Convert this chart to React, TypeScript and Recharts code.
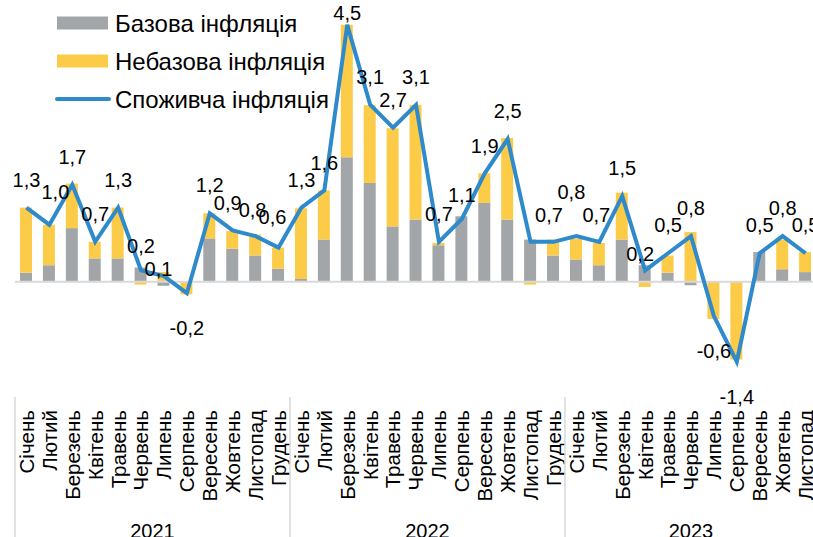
import React from 'react';
import { ComposedChart, Bar, Line, XAxis, YAxis, ReferenceLine, Legend } from 'recharts';

const monthNames = ['Січень', 'Лютий', 'Березень', 'Квітень', 'Травень', 'Червень', 'Липень', 'Серпень', 'Вересень', 'Жовтень', 'Листопад', 'Грудень'];
const years = ['2021', '2022', '2023'];
const monthsPerYear = [12, 12, 11];

const baseInflation = [
  0.16, 0.29, 0.94, 0.41, 0.41, 0.25, -0.07, 0.0, 0.76, 0.58, 0.46, 0.23,
  0.05, 0.74, 2.18, 1.73, 0.97, 1.09, 0.64, 1.15, 1.38, 1.09, 0.74, 0.46,
  0.39, 0.29, 0.74, 0.29, 0.16, -0.06, 0.0, 0.0, 0.52, 0.22, 0.17,
];
const nonBaseInflation = [
  1.14, 0.71, 0.78, 0.29, 0.89, -0.05, 0.17, -0.22, 0.44, 0.31, 0.37, 0.37,
  1.24, 0.86, 2.32, 1.36, 1.72, 2.01, 0.04, 0.0, 0.52, 1.43, -0.05, 0.28,
  0.36, 0.39, 0.82, -0.09, 0.30, 0.87, -0.65, -1.36, 0.0, 0.52, 0.35,
];
const cpiInflation = [
  1.3, 1.0, 1.7, 0.7, 1.3, 0.2, 0.1, -0.2, 1.2, 0.9, 0.8, 0.6,
  1.3, 1.6, 4.5, 3.1, 2.7, 3.1, 0.7, 1.1, 1.9, 2.5, 0.7, 0.7,
  0.8, 0.7, 1.5, 0.2, 0.5, 0.8, -0.6, -1.4, 0.5, 0.8, 0.5,
];

const seriesNames = ['Базова інфляція', 'Небазова інфляція', 'Споживча інфляція'];

type Row = { key: string; year: string; monthIdx: number; month: string; base: number; nonbase: number; cpi: number };
const data: Row[] = [];
{
  let i = 0;
  years.forEach((y, yi) => {
    for (let m = 0; m < monthsPerYear[yi]; m++) {
      data.push({ key: `${y}-${m}`, year: y, monthIdx: m, month: monthNames[m], base: baseInflation[i], nonbase: nonBaseInflation[i], cpi: cpiInflation[i] });
      i++;
    }
  });
}

// label placement tweaks (styling only), keyed by category index: [dx, dy from point]
const labelNudges: Record<number, [number, number]> = {
  1: [6, -33],
  5: [0, -25],
  6: [-5.5, -7],
  9: [-5, -28],
  10: [-3, -26],
  11: [-6, -31],
  19: [0, -24],
  23: [-4.5, -27],
  24: [-5, -44],
  25: [-3, -27],
  27: [-5, -17],
};
const hiddenLabels = new Set([22]);

const FONT = '"Liberation Sans", Arial, sans-serif';
const GREY = '#A3A6A9';
const YELLOW = '#FCCB48';
const BLUE = '#2E8ACB';

const CHART_W = 817;
const CHART_H = 537;
const M_LEFT = 15;
const M_TOP = 2;
const AXIS_H = 141;
const STEP = (CHART_W - M_LEFT) / data.length;

const MonthTick = (props: any) => {
  const { x, y, payload } = props;
  const row = data[payload.index];
  if (!row) return null;
  const yi = years.indexOf(row.year);
  const count = monthsPerYear[yi];
  const mid = Math.floor((count - 1) / 2);
  const yearX = x + ((count - 1) / 2 - mid) * STEP;
  return (
    <g>
      <g transform={`translate(${x},${y + 14}) rotate(-90)`}>
        <text x={0} y={0} dy="0.36em" textAnchor="end" fontSize={20.5} fontFamily={FONT} fill="#000">
          {row.month}
        </text>
      </g>
      {row.monthIdx === 0 && (
        <line x1={x - STEP / 2} x2={x - STEP / 2} y1={y + 1} y2={CHART_H} stroke="#D9D9D9" strokeWidth={1.5} />
      )}
      {row.monthIdx === mid && (
        <text x={yearX} y={y + 142} textAnchor="middle" fontSize={20} fontFamily={FONT} fill="#000">
          {row.year}
        </text>
      )}
    </g>
  );
};

const CpiLabel = (props: any) => {
  const { x, y, value, index } = props;
  if (value == null || hiddenLabels.has(index)) return null;
  const txt = Number(value).toFixed(1).replace('.', ',');
  const nudge = labelNudges[index];
  let lx = x;
  let ly = value < 0 ? y + 35 : y - 28;
  if (nudge) {
    lx = x + nudge[0];
    ly = y + nudge[1];
  }
  if (ly < 13) ly = 13;
  return (
    <text x={lx} y={ly} dy="0.36em" textAnchor="middle" fontSize={20} fontFamily={FONT} fill="#000">
      {txt}
    </text>
  );
};

const LegendContent = () => {
  const items = [
    { name: seriesNames[0], color: GREY, type: 'rect' },
    { name: seriesNames[1], color: YELLOW, type: 'rect' },
    { name: seriesNames[2], color: BLUE, type: 'line' },
  ];
  return (
    <svg width={300} height={120} style={{ display: 'block', overflow: 'visible' }}>
      {items.map((it, i) => {
        const cy = 23 + i * 38;
        return (
          <g key={it.name}>
            {it.type === 'rect' ? (
              <rect x={0} y={cy - 6.5} width={51} height={13} fill={it.color} />
            ) : (
              <line x1={0} x2={52} y1={cy} y2={cy} stroke={it.color} strokeWidth={4} strokeLinecap="round" />
            )}
            <text x={58} y={cy} dy="0.36em" fontSize={24} fontFamily={FONT} fill="#000">
              {it.name}
            </text>
          </g>
        );
      })}
    </svg>
  );
};

export default function App() {
  return (
    <div style={{ position: 'absolute', left: 0, top: 0, width: 813, height: 537, overflow: 'hidden', background: '#fff', fontFamily: FONT }}>
      <ComposedChart
        width={CHART_W}
        height={CHART_H}
        data={data}
        stackOffset="sign"
        margin={{ top: M_TOP, right: 0, bottom: 0, left: M_LEFT }}
        barCategoryGap="0%"
      >
        <XAxis
          dataKey="key"
          interval={0}
          tick={<MonthTick />}
          tickLine={false}
          axisLine={false}
          tickSize={0}
          tickMargin={0}
          height={AXIS_H}
        />
        <YAxis hide domain={[-2, 4.9]} allowDataOverflow />
        <ReferenceLine y={0} stroke="#D9D9D9" strokeWidth={2} />
        <Legend
          layout="horizontal"
          verticalAlign="middle"
          align="center"
          content={<LegendContent />}
          wrapperStyle={{ position: 'absolute', top: 0, left: 57, width: 320, height: 120 }}
        />
        <Bar dataKey="base" name={seriesNames[0]} stackId="a" fill={GREY} barSize={12} isAnimationActive={false} />
        <Bar dataKey="nonbase" name={seriesNames[1]} stackId="a" fill={YELLOW} barSize={12} isAnimationActive={false} />
        <Line
          dataKey="cpi"
          name={seriesNames[2]}
          type="linear"
          stroke={BLUE}
          strokeWidth={4}
          dot={false}
          activeDot={false}
          isAnimationActive={false}
          label={<CpiLabel />}
        />
      </ComposedChart>
    </div>
  );
}
